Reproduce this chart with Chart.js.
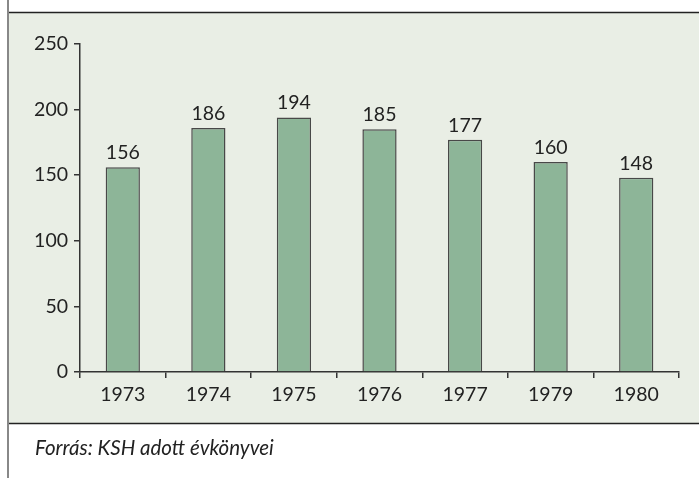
<!DOCTYPE html>
<html>
<head>
<meta charset="utf-8">
<script src="https://cdn.jsdelivr.net/npm/chart.js@4/dist/chart.umd.min.js"></script>
<style>
html,body{margin:0;padding:0;background:#fff;}
#wrap{position:relative;width:699px;height:478px;overflow:hidden;}
canvas{position:absolute;left:0;top:0;}
#foot{position:absolute;left:35px;top:435px;font-family:Lato,"Open Sans",sans-serif;font-style:italic;font-size:20.5px;color:#222;white-space:nowrap;}
</style>
</head>
<body>
<div id="wrap">
<canvas id="c" width="699" height="478"></canvas>
<div id="foot">Forrás: KSH adott évkönyvei</div>
</div>
<script>
const categories = ["1973","1974","1975","1976","1977","1979","1980"];
const values = [156,186,194,185,177,160,148];
const yTicks = [0,50,100,150,200,250];

const FONT = 'Lato, "Open Sans", sans-serif';

const panelPlugin = {
  id: 'panel',
  beforeDraw(chart){
    const ctx = chart.ctx;
    ctx.save();
    ctx.fillStyle = '#e9eee5';
    ctx.fillRect(8, 12, 691, 411);
    ctx.strokeStyle = '#222';
    ctx.lineWidth = 1.5;
    ctx.beginPath();
    ctx.moveTo(8, 12.5); ctx.lineTo(699, 12.5);
    ctx.moveTo(8, 423.5); ctx.lineTo(699, 423.5);
    ctx.stroke();
    ctx.strokeStyle = '#888';
    ctx.lineWidth = 2;
    ctx.beginPath();
    ctx.moveTo(8, 0); ctx.lineTo(8, 478);
    ctx.stroke();
    ctx.restore();
  }
};

const labelPlugin = {
  id: 'vlabels',
  afterDatasetsDraw(chart){
    const ctx = chart.ctx;
    const meta = chart.getDatasetMeta(0);
    ctx.save();
    ctx.fillStyle = '#222';
    ctx.font = '19.5px ' + FONT;
    ctx.textAlign = 'center';
    ctx.textBaseline = 'alphabetic';
    meta.data.forEach((bar, i) => {
      ctx.fillText(String(values[i]), bar.x, bar.y - 8);
    });
    ctx.restore();
  }
};

new Chart(document.getElementById('c'), {
  type: 'bar',
  data: {
    labels: categories,
    datasets: [{
      data: values,
      backgroundColor: '#8db598',
      borderColor: '#484848',
      borderWidth: 1.5,
      barPercentage: 0.4,
      categoryPercentage: 1
    }]
  },
  options: {
    responsive: false,
    animation: false,
    devicePixelRatio: 1,
    layout: { padding: { left: 0, top: 44, right: 20, bottom: 0 } },
    plugins: { legend: { display: false }, tooltip: { enabled: false } },
    scales: {
      x: {
        grid: { offset: true, drawOnChartArea: false, drawTicks: true, tickLength: 6, color: '#333', lineWidth: 1.5 },
        border: { display: true, color: '#333', width: 1.5 },
        ticks: { color: '#222', font: { family: FONT, size: 19.5 }, padding: 5, maxRotation: 0 },
        afterFit(scale){ scale.height = 106; }
      },
      y: {
        min: 0, max: 250,
        afterBuildTicks(scale){ scale.ticks = yTicks.map(v => ({ value: v })); },
        grid: { drawOnChartArea: false, drawTicks: true, tickLength: 6, color: '#333', lineWidth: 1.5 },
        border: { display: true, color: '#333', width: 1.5 },
        ticks: { color: '#222', font: { family: FONT, size: 19.5 }, padding: 6 },
        afterFit(scale){ scale.width = 80; }
      }
    }
  },
  plugins: [panelPlugin, labelPlugin]
});
</script>
</body>
</html>
